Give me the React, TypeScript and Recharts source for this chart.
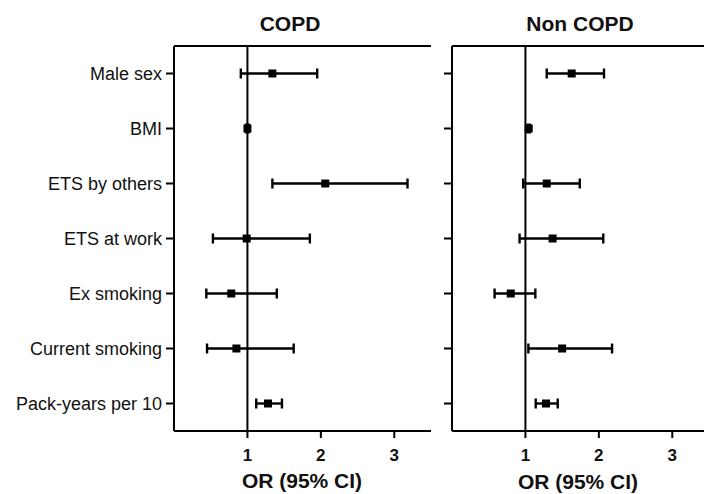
import React from "react";
import {
    ScatterChart,
    Scatter,
    XAxis,
    YAxis,
    ZAxis,
    ErrorBar,
    ReferenceLine,
} from "recharts";

const factors = [
    "Male sex",
    "BMI",
    "ETS by others",
    "ETS at work",
    "Ex smoking",
    "Current smoking",
    "Pack-years per 10",
];

// COPD odds ratios with 95% CI
const copdOR = [1.34, 1.0, 2.06, 0.99, 0.78, 0.85, 1.28];
const copdLow = [0.91, 0.98, 1.34, 0.53, 0.44, 0.45, 1.12];
const copdHigh = [1.95, 1.02, 3.18, 1.85, 1.4, 1.63, 1.47];

// Non COPD odds ratios with 95% CI
const nonOR = [1.63, 1.045, 1.29, 1.37, 0.8, 1.5, 1.28];
const nonLow = [1.29, 1.03, 0.97, 0.92, 0.58, 1.04, 1.14];
const nonHigh = [2.07, 1.06, 1.74, 2.06, 1.135, 2.18, 1.44];

const xTicks = [1, 2, 3];
const font = "'Liberation Sans', Arial, sans-serif";

const build = (or: number[], lo: number[], hi: number[]) =>
    factors.map((name, i) => ({
        name,
        pos: i,
        or: or[i],
        err: [or[i] - lo[i], hi[i] - or[i]],
    }));

const Panel = ({ data, width, showLabels, yWidth, right }: {
    data: ReturnType<typeof build>;
    width: number;
    showLabels: boolean;
    yWidth: number;
    right: number;
}) => (
    <ScatterChart width={width} height={494} margin={{ top: 46, right, bottom: 0, left: 0 }}>
        <XAxis
            dataKey="or"
            type="number"
            domain={[0, 3.5]}
            ticks={xTicks}
            height={63}
            tickSize={7}
            tickMargin={11}
            axisLine={{ stroke: "#000", strokeWidth: 2 }}
            tickLine={{ stroke: "#000", strokeWidth: 2 }}
            tick={{ fill: "#111", fontSize: 17, fontWeight: 700, fontFamily: font }}
        />
        <YAxis
            dataKey="pos"
            type="number"
            domain={[-0.5, 6.5]}
            reversed
            ticks={factors.map((_, i) => i)}
            interval={0}
            width={yWidth}
            tickSize={8}
            tickMargin={4}
            tickFormatter={(i: number) => (showLabels ? factors[i] : "")}
            axisLine={{ stroke: "#000", strokeWidth: 2 }}
            tickLine={{ stroke: "#000", strokeWidth: 2 }}
            tick={{ fill: "#111", fontSize: 18, fontFamily: font }}
        />
        <ZAxis range={[72, 72]} />
        <ReferenceLine y={-0.5} stroke="#000" strokeWidth={2} />
        <ReferenceLine x={1} stroke="#000" strokeWidth={2} />
        <Scatter data={data} shape="square" fill="#000" isAnimationActive={false}>
            <ErrorBar dataKey="err" direction="x" width={5} stroke="#000" strokeWidth={2} />
        </Scatter>
    </ScatterChart>
);

const textStyle: React.CSSProperties = {
    position: "absolute",
    fontFamily: font,
    fontWeight: 700,
    fontSize: 21,
    color: "#111",
    whiteSpace: "nowrap",
    transform: "translate(-50%, -50%)",
};

export default function App() {
    const copd = build(copdOR, copdLow, copdHigh);
    const non = build(nonOR, nonLow, nonHigh);
    return (
        <div style={{ position: "absolute", left: 0, top: 0, width: 704, height: 494, overflow: "hidden", background: "#fff" }}>
            <style>{".recharts-errorBar line, .recharts-errorBar path { stroke-width: 2.4px !important; stroke: #000 !important; }"}</style>
            <div style={{ position: "absolute", left: 0, top: 0 }}>
                <Panel data={copd} width={440} showLabels yWidth={174} right={9} />
            </div>
            <div style={{ position: "absolute", left: 420, top: 0 }}>
                <Panel data={non} width={300} showLabels={false} yWidth={32} right={11} />
            </div>
            <div style={{ ...textStyle, left: 290, top: 24 }}>COPD</div>
            <div style={{ ...textStyle, left: 580, top: 24 }}>Non COPD</div>
            <div style={{ ...textStyle, left: 302, top: 481 }}>OR (95% CI)</div>
            <div style={{ ...textStyle, left: 578, top: 482 }}>OR (95% CI)</div>
        </div>
    );
}
